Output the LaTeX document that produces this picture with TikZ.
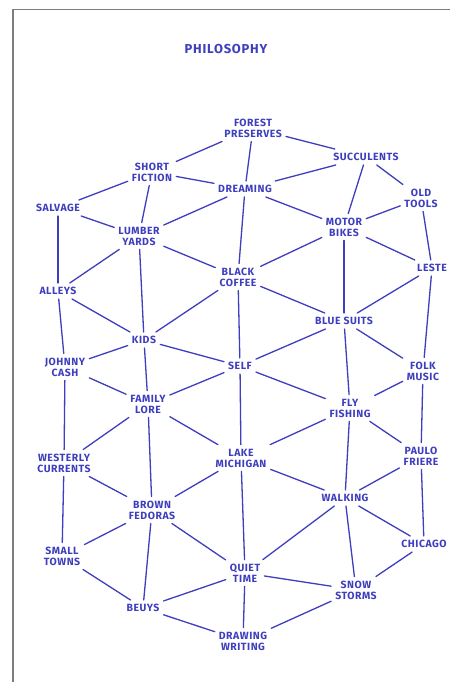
\documentclass[tikz,border=0pt]{standalone}
\usepackage{fontspec}
\setmainfont{Fira Sans}
\definecolor{pen}{RGB}{62,62,190}
\definecolor{frame}{RGB}{125,125,125}
\tikzset{
  word/.style={text=pen, font=\addfontfeatures{LetterSpace=5}\fontsize{10.5}{11}\selectfont\bfseries, align=center, inner sep=4bp},
  link/.style={draw=pen, line width=1.3bp, line cap=round},
  title/.style={text=pen, font=\addfontfeatures{LetterSpace=6}\fontsize{13}{13}\selectfont\bfseries, inner sep=0pt}
}
\begin{document}
\begin{tikzpicture}[x=1bp,y=-1bp]
\useasboundingbox (0,0) rectangle (450,682);
\fill[white] (0,0) rectangle (450,682);
\draw[frame, line width=1.4bp] (13,682) -- (13,9.5) -- (450,9.5);
\node[title] (ttl) at (226,49) {PHILOSOPHY};

\node[word] (forest) at (253,128) {FOREST\\PRESERVES};
\node[word] (succ) at (366,157) {SUCCULENTS};
\node[word] (short) at (152,172) {SHORT\\FICTION};
\node[word] (dream) at (245,189) {DREAMING};
\node[word] (old) at (421,198) {OLD\\TOOLS};
\node[word] (salv) at (58,208) {SALVAGE};
\node[word] (lumber) at (139,236) {LUMBER\\YARDS};
\node[word] (motor) at (344,227) {MOTOR\\BIKES};
\node[word] (coffee) at (238,277) {BLACK\\COFFEE};
\node[word] (leste) at (432,268) {LESTE};
\node[word] (alleys) at (58,291) {ALLEYS};
\node[word] (blue) at (344,321) {BLUE SUITS};
\node[word] (kids) at (144,340) {KIDS};
\node[word] (johnny) at (65,367) {JOHNNY\\CASH};
\node[word] (self) at (240,366) {SELF};
\node[word] (folk) at (423,371) {FOLK\\MUSIC};
\node[word] (family) at (148,404) {FAMILY\\LORE};
\node[word] (fly) at (350,408) {FLY\\FISHING};
\node[word] (lake) at (241,458) {LAKE\\MICHIGAN};
\node[word] (paulo) at (421,456) {PAULO\\FRIERE};
\node[word] (west) at (64,463) {WESTERLY\\CURRENTS};
\node[word] (walk) at (345,498) {WALKING};
\node[word] (brown) at (152,510) {BROWN\\FEDORAS};
\node[word] (small) at (62,556) {SMALL\\TOWNS};
\node[word] (chicago) at (424,544) {CHICAGO};
\node[word] (quiet) at (245,573) {QUIET\\TIME};
\node[word] (snow) at (356,590) {SNOW\\STORMS};
\node[word] (beuys) at (143,608) {BEUYS};
\node[word] (draw) at (243,641) {DRAWING\\WRITING};

\foreach \a/\b in {forest/short, forest/succ, forest/dream,
  short/dream, short/salv, short/lumber,
  succ/dream, succ/old, succ/motor,
  dream/lumber, dream/motor, dream/coffee,
  old/motor, old/leste,
  salv/lumber, salv/alleys,
  lumber/coffee, lumber/alleys, lumber/kids,
  motor/coffee, motor/leste, motor/blue,
  coffee/blue, coffee/kids, coffee/self,
  leste/blue, leste/folk,
  alleys/kids, alleys/johnny,
  blue/self, blue/folk, blue/fly,
  kids/johnny, kids/self, kids/family,
  johnny/family, johnny/west,
  self/family, self/fly, self/lake,
  folk/fly, folk/paulo,
  family/west, family/lake, family/brown,
  fly/lake, fly/paulo, fly/walk,
  west/brown, west/small,
  lake/brown, lake/walk, lake/quiet,
  paulo/walk, paulo/chicago,
  walk/chicago, walk/quiet, walk/snow,
  brown/small, brown/quiet, brown/beuys,
  small/beuys,
  chicago/snow,
  quiet/snow, quiet/beuys, quiet/draw,
  snow/draw, beuys/draw}
  \draw[link] (\a) -- (\b);
\end{tikzpicture}
\end{document}
